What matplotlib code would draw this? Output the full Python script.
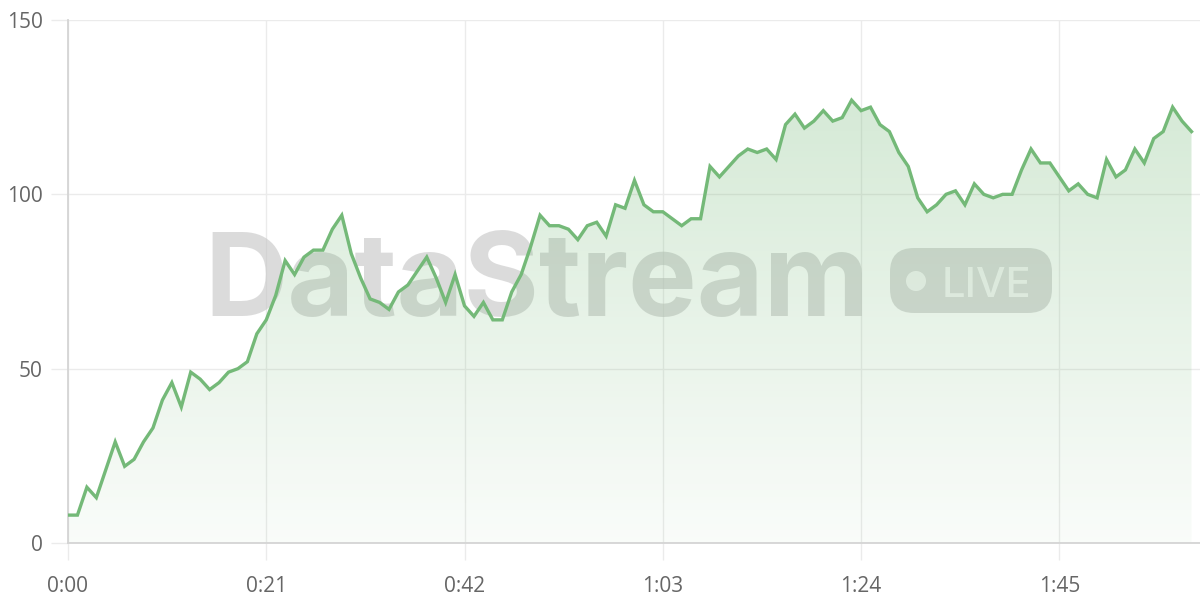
import numpy as np
import matplotlib
matplotlib.use('Agg')
import matplotlib.pyplot as plt
from matplotlib.patches import FancyBboxPatch, Circle
from matplotlib.colors import LinearSegmentedColormap
from matplotlib.transforms import Affine2D

matplotlib.rcParams['font.family'] = ['Open Sans', 'DejaVu Sans']

# seconds since start, one sample per second
seconds = list(range(120))
values = [8, 8, 16, 13, 21, 29, 22, 24, 29, 33, 41, 46, 39, 49, 47, 44, 46, 49, 50, 52,
          60, 64, 71, 81, 77, 82, 84, 84, 90, 94, 83, 76, 70, 69, 67, 72, 74, 78, 82, 76,
          69, 77, 68, 65, 69, 64, 64, 72, 77, 85, 94, 91, 91, 90, 87, 91, 92, 88, 97, 96,
          104, 97, 95, 95, 93, 91, 93, 93, 108, 105, 108, 111, 113, 112, 113, 110, 120, 123, 119, 121,
          124, 121, 122, 127, 124, 125, 120, 118, 112, 108, 99, 95, 97, 100, 101, 97, 103, 100, 99, 100,
          100, 107, 113, 109, 109, 105, 101, 103, 100, 99, 110, 105, 107, 113, 109, 116, 118, 125, 121, 118]
x_ticks = [0, 21, 42, 63, 84, 105]
x_labels = ['0:00', '0:21', '0:42', '1:03', '1:24', '1:45']
y_ticks = [0, 50, 100, 150]

green = '#74b978'

fig = plt.figure(figsize=(12, 6), dpi=100)
ax = fig.add_axes([68/1200, 57/600, 1 - 68/1200, 523/600])

# pixel coords, origin top-left
px = Affine2D().scale(1, -1).translate(0, 600) + fig.dpi_scale_trans.inverted() + fig.dpi_scale_trans
px = Affine2D().scale(1/1200, -1/600).translate(0, 1) + fig.transFigure

# watermark
ax.text(537, 316, 'DataStream', transform=px, ha='center', va='baseline',
        fontsize=83, fontweight='bold', color='#c4c4c4', alpha=0.6, zorder=1,
        family='Inter')
badge = FancyBboxPatch((890, 248), 162, 65, boxstyle='round,pad=0,rounding_size=24',
                       transform=px, fc='#c4c4c4', ec='none', alpha=0.6, zorder=1)
ax.add_patch(badge)
ax.add_patch(Circle((916, 281), 10, transform=px, fc='white', ec='none',
                    alpha=0.75, zorder=1.1))
ax.text(986, 297, 'LIVE', transform=px, ha='center', va='baseline',
        fontsize=30, color='white', alpha=0.75, zorder=1.1, family='Inter', fontweight='medium')

# gradient area
poly = ax.fill_between(seconds, values, 0, color='none', zorder=2)
cmap = LinearSegmentedColormap.from_list('g', [(0.455, 0.725, 0.47, 0.04), (0.455, 0.725, 0.47, 0.30)])
grad = np.linspace(0, 1, 256).reshape(-1, 1)
img = ax.imshow(grad, cmap=cmap, aspect='auto', origin='lower',
                extent=[0, max(seconds), 0, max(values)], zorder=2)
img.set_clip_path(poly.get_paths()[0], transform=ax.transData)

ax.plot(seconds, values, color=green, lw=2.4, zorder=3, solid_joinstyle='miter')

ax.set_xlim(0, 119.9)
ax.set_ylim(0, 150)
ax.set_xticks(x_ticks)
ax.set_xticklabels(x_labels)
ax.set_yticks(y_ticks)
ax.grid(True, color='#ebebeb', lw=1, zorder=0)
ax.set_axisbelow(True)
for s in ['top', 'right']:
    ax.spines[s].set_visible(False)
ax.spines['left'].set_color('#d4d4d4')
ax.spines['bottom'].set_color('#d4d4d4')
ax.spines['left'].set_linewidth(1.3)
ax.spines['bottom'].set_linewidth(1.3)
ax.tick_params(axis='both', colors='#ebebeb', labelcolor='#666666', labelsize=15, length=12, width=1)
ax.tick_params(axis='x', pad=12)
ax.tick_params(axis='y', pad=6)

plt.savefig('out.png', dpi=100)
